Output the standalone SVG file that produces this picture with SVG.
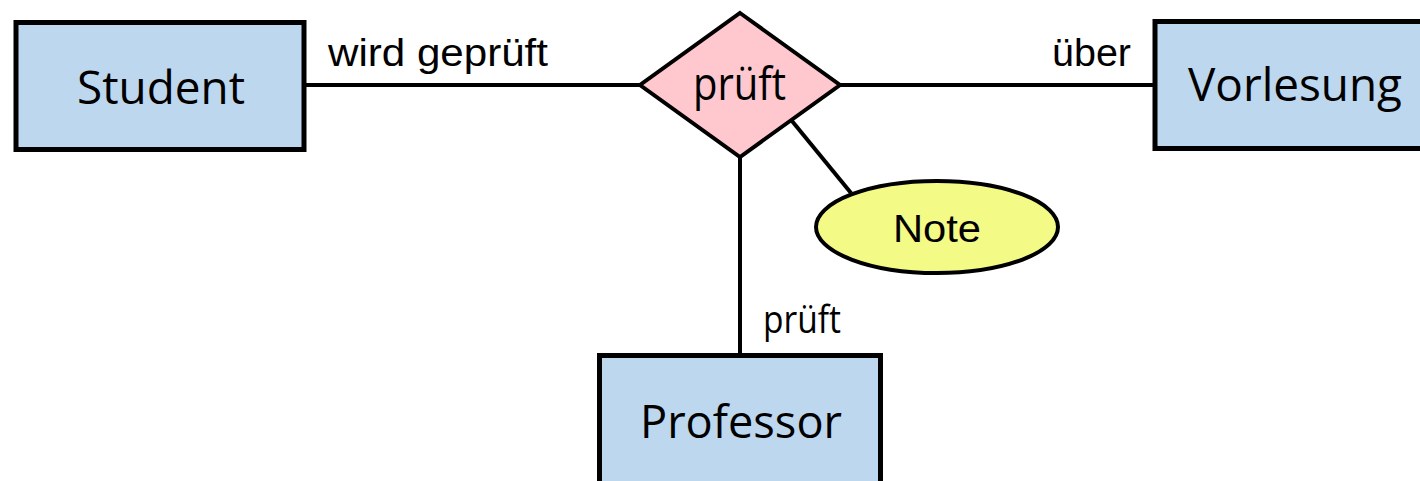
<svg xmlns="http://www.w3.org/2000/svg" width="1420" height="481" viewBox="0 0 1420 481">
<style>
.ent{fill:#BDD7EE;stroke:#000;stroke-width:5}
.rel{fill:#FFC7CE;stroke:#000;stroke-width:4;stroke-linejoin:miter}
.att{fill:#F4FA86;stroke:#000;stroke-width:4}
.con{stroke:#000;stroke-width:4;fill:none}
.big{font-family:"Open Sans","Noto Sans",sans-serif;font-size:46px;fill:#000;text-anchor:middle}
.lbl{font-family:"Liberation Sans",Arial,sans-serif;font-size:39px;fill:#000}
.lblc{font-family:"Open Sans","Noto Sans",sans-serif;font-size:38px;fill:#000}
</style>
<rect width="1420" height="481" fill="#fff"/>
<g id="connectors">
<line class="con" x1="305" y1="85" x2="640" y2="85"/>
<line class="con" x1="840" y1="85" x2="1155" y2="85"/>
<line class="con" x1="740" y1="156" x2="740" y2="355"/>
<line class="con" x1="792" y1="121" x2="851" y2="193"/>
<text class="lbl" x="328" y="66" textLength="220" lengthAdjust="spacingAndGlyphs">wird geprüft</text>
<text class="lbl" x="1052" y="66" textLength="79" lengthAdjust="spacingAndGlyphs">über</text>
<text class="lblc" x="763" y="333" textLength="78" lengthAdjust="spacingAndGlyphs">prüft</text>
</g>
<g id="student">
<rect class="ent" x="16" y="22.5" width="288" height="127"/>
<text class="big" x="161" y="104" textLength="168" lengthAdjust="spacingAndGlyphs">Student</text>
</g>
<g id="vorlesung">
<rect class="ent" x="1155" y="21.5" width="300" height="127"/>
<text class="big" x="1295" y="101" textLength="214" lengthAdjust="spacingAndGlyphs">Vorlesung</text>
</g>
<g id="professor">
<rect class="ent" x="599.5" y="355.5" width="281" height="200"/>
<text class="big" x="741" y="438" textLength="202" lengthAdjust="spacingAndGlyphs">Professor</text>
</g>
<g id="prueft">
<polygon class="rel" points="740,13 840,85 740,157 640,85"/>
<text class="big" x="739.5" y="100" textLength="93" lengthAdjust="spacingAndGlyphs">prüft</text>
</g>
<g id="note">
<ellipse class="att" cx="937" cy="227" rx="121" ry="46"/>
<text class="lbl" x="937" y="242" text-anchor="middle" textLength="88" lengthAdjust="spacingAndGlyphs">Note</text>
</g>
</svg>
